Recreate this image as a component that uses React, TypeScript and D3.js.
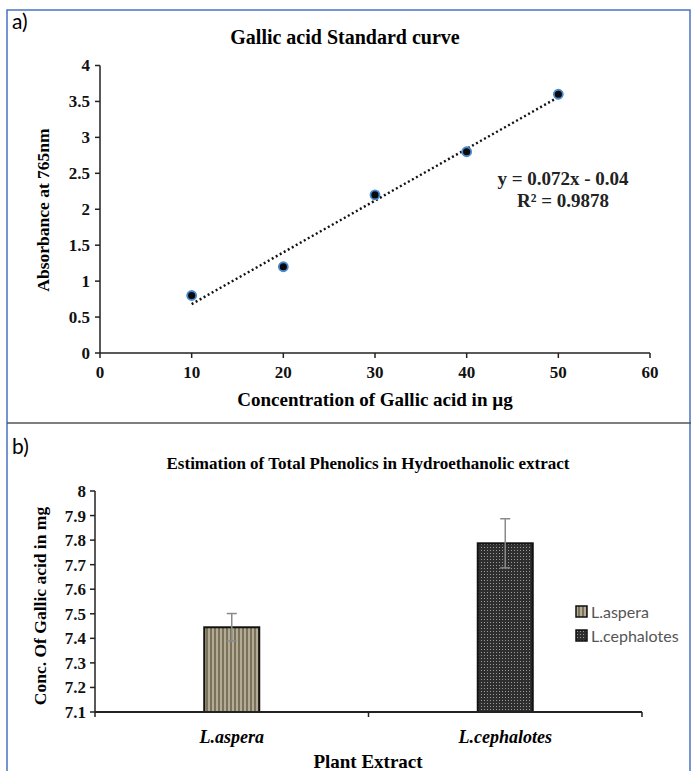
import React from 'react';
import * as d3 from 'd3';

// panel a: standard curve
const stdConc = [10, 20, 30, 40, 50];
const stdAbs = [0.8, 1.2, 2.2, 2.8, 3.6];
const fitSlope = 0.072;
const fitIntercept = -0.04;
const concTicks = [0, 10, 20, 30, 40, 50, 60];
const absTicks = [0, 0.5, 1, 1.5, 2, 2.5, 3, 3.5, 4];

// panel b: total phenolics
const extracts = ['L.aspera', 'L.cephalotes'];
const phenolMeans = [7.445, 7.787];
const phenolErr = [0.056, 0.1];
const phenolTicks = [7.1, 7.2, 7.3, 7.4, 7.5, 7.6, 7.7, 7.8, 7.9, 8];

const serif = '"Liberation Serif", "Times New Roman", serif';
const sans = 'Lato, "Open Sans", sans-serif';

const App = () => {
  const W = 691;
  const H = 771;

  const xA = d3.scaleLinear().domain([0, 60]).range([100, 650]);
  const yA = d3.scaleLinear().domain([0, 4]).range([353, 65.5]);
  const fitLine = d3.line<number>()
    .x(d => xA(d))
    .y(d => yA(fitSlope * d + fitIntercept));
  const fitX = [d3.min(stdConc)!, d3.max(stdConc)!];

  const xB = d3.scaleBand<string>().domain(extracts).range([95, 642]);
  const yB = d3.scaleLinear().domain([7.1, 8]).range([712, 491]);
  const barW = 55;
  const fills = ['url(#stripes)', 'url(#dots)'];

  const fmt = (v: number) => String(+v.toFixed(1));

  return (
    <svg width={W} height={H} style={{ display: 'block', position: 'absolute', left: 0, top: 0 }}>
      <defs>
        <pattern id="stripes" width="4" height="4" patternUnits="userSpaceOnUse">
          <rect width="4" height="4" fill="#7b725c" />
          <rect x="0" width="2" height="4" fill="#b3ab94" />
        </pattern>
        <pattern id="dots" width="3" height="3" patternUnits="userSpaceOnUse">
          <rect width="3" height="3" fill="#2e2e2e" />
          <rect x="1" y="1" width="1" height="1" fill="#9a9a9a" />
        </pattern>
      </defs>
      <rect width={W} height={H} fill="#fff" />
      {/* frame */}
      <rect x={7} y={10} width={683} height={H} fill="none" stroke="#4a72c0" strokeWidth={1.5} />
      <line x1={7} x2={W} y1={423} y2={423} stroke="#555" strokeWidth={1.5} />
      <text x={12} y={29} fontFamily={sans} fontSize={21}>a)</text>
      <text x={12} y={454} fontFamily={sans} fontSize={21}>b)</text>

      {/* ---- panel a ---- */}
      <text x={345} y={44} textAnchor="middle" fontFamily={serif} fontWeight="bold" fontSize={20}>
        Gallic acid Standard curve
      </text>
      <g fontFamily={serif} fontWeight="bold" fontSize={17} fill="#111">
        <line x1={xA(0)} x2={xA(0)} y1={yA(4)} y2={yA(0)} stroke="#222" strokeWidth={1.5} />
        <line x1={xA(0)} x2={xA(60)} y1={yA(0)} y2={yA(0)} stroke="#222" strokeWidth={1.5} />
        {absTicks.map(t => (
          <g key={t}>
            <line x1={xA(0) - 5} x2={xA(0)} y1={yA(t)} y2={yA(t)} stroke="#222" strokeWidth={1.5} />
            <text x={xA(0) - 10} y={yA(t)} dy="0.35em" textAnchor="end">{fmt(t)}</text>
          </g>
        ))}
        {concTicks.map(t => (
          <g key={t}>
            <line x1={xA(t)} x2={xA(t)} y1={yA(0)} y2={yA(0) + 5} stroke="#222" strokeWidth={1.5} />
            <text x={xA(t)} y={yA(0) + 25} textAnchor="middle">{t}</text>
          </g>
        ))}
      </g>
      <text x={375} y={406} textAnchor="middle" fontFamily={serif} fontWeight="bold" fontSize={19}>
        Concentration of Gallic acid in µg
      </text>
      <text transform="translate(49,210) rotate(-90)" textAnchor="middle" fontFamily={serif} fontWeight="bold" fontSize={17.5}>
        Absorbance at 765nm
      </text>
      <path d={fitLine(fitX) || ''} fill="none" stroke="#111" strokeWidth={2.4} strokeDasharray="2,2.6" />
      {stdConc.map((c, i) => (
        <circle key={c} cx={xA(c)} cy={yA(stdAbs[i])} r={4.5} fill="#0a0a0a" stroke="#4a8ad0" strokeWidth={1.8} />
      ))}
      <g fontFamily={serif} fontWeight="bold" fontSize={19} textAnchor="middle" fill="#222">
        <text x={563} y={185}>y = 0.072x - 0.04</text>
        <text x={563} y={207}>R² = 0.9878</text>
      </g>

      {/* ---- panel b ---- */}
      <text x={368} y={469} textAnchor="middle" fontFamily={serif} fontWeight="bold" fontSize={17}>
        Estimation of Total Phenolics in Hydroethanolic extract
      </text>
      <g fontFamily={serif} fontWeight="bold" fontSize={17} fill="#111">
        <line x1={95} x2={95} y1={yB(8)} y2={yB(7.1)} stroke="#222" strokeWidth={1.5} />
        {phenolTicks.map(t => (
          <g key={t}>
            <line x1={90} x2={95} y1={yB(t)} y2={yB(t)} stroke="#222" strokeWidth={1.5} />
            <text x={86} y={yB(t)} dy="0.35em" textAnchor="end">{fmt(t)}</text>
          </g>
        ))}
      </g>
      {extracts.map((e, i) => {
        const cx = xB(e)! + xB.bandwidth() / 2;
        return (
          <g key={e}>
            <rect x={cx - barW / 2} y={yB(phenolMeans[i])} width={barW} height={yB(7.1) - yB(phenolMeans[i])}
              fill={fills[i]} stroke="#111" strokeWidth={2} />
            <line x1={cx} x2={cx} y1={yB(phenolMeans[i] + phenolErr[i])} y2={yB(phenolMeans[i] - phenolErr[i])}
              stroke="#8a8a8a" strokeWidth={1.5} />
            <line x1={cx - 5} x2={cx + 5} y1={yB(phenolMeans[i] + phenolErr[i])} y2={yB(phenolMeans[i] + phenolErr[i])}
              stroke="#8a8a8a" strokeWidth={1.5} />
            <line x1={cx - 5} x2={cx + 5} y1={yB(phenolMeans[i] - phenolErr[i])} y2={yB(phenolMeans[i] - phenolErr[i])}
              stroke="#8a8a8a" strokeWidth={1.5} />
            <text x={cx} y={743} textAnchor="middle" fontFamily={serif} fontWeight="bold" fontStyle="italic" fontSize={18}>
              {e}
            </text>
          </g>
        );
      })}
      <line x1={95} x2={642} y1={yB(7.1)} y2={yB(7.1)} stroke="#222" strokeWidth={1.8} />
      {[...extracts.map(e => xB(e)!), 642].map(x => (
        <line key={x} x1={x} x2={x} y1={yB(7.1)} y2={yB(7.1) + 5} stroke="#222" strokeWidth={1.5} />
      ))}
      <text x={368} y={768} textAnchor="middle" fontFamily={serif} fontWeight="bold" fontSize={19}>
        Plant Extract
      </text>
      <text transform="translate(46,606) rotate(-90)" textAnchor="middle" fontFamily={serif} fontWeight="bold" fontSize={17.5}>
        Conc. Of Gallic acid in mg
      </text>
      {extracts.map((e, i) => (
        <g key={e} transform={`translate(576,${612 + i * 24})`}>
          <rect x={0} y={-6} width={11} height={11} fill={fills[i]} stroke="#111" strokeWidth={1.5} />
          <text x={15} y={0} dy="0.35em" fontFamily={sans} fontSize={16} fill="#555">{e}</text>
        </g>
      ))}
    </svg>
  );
};

export default App;
